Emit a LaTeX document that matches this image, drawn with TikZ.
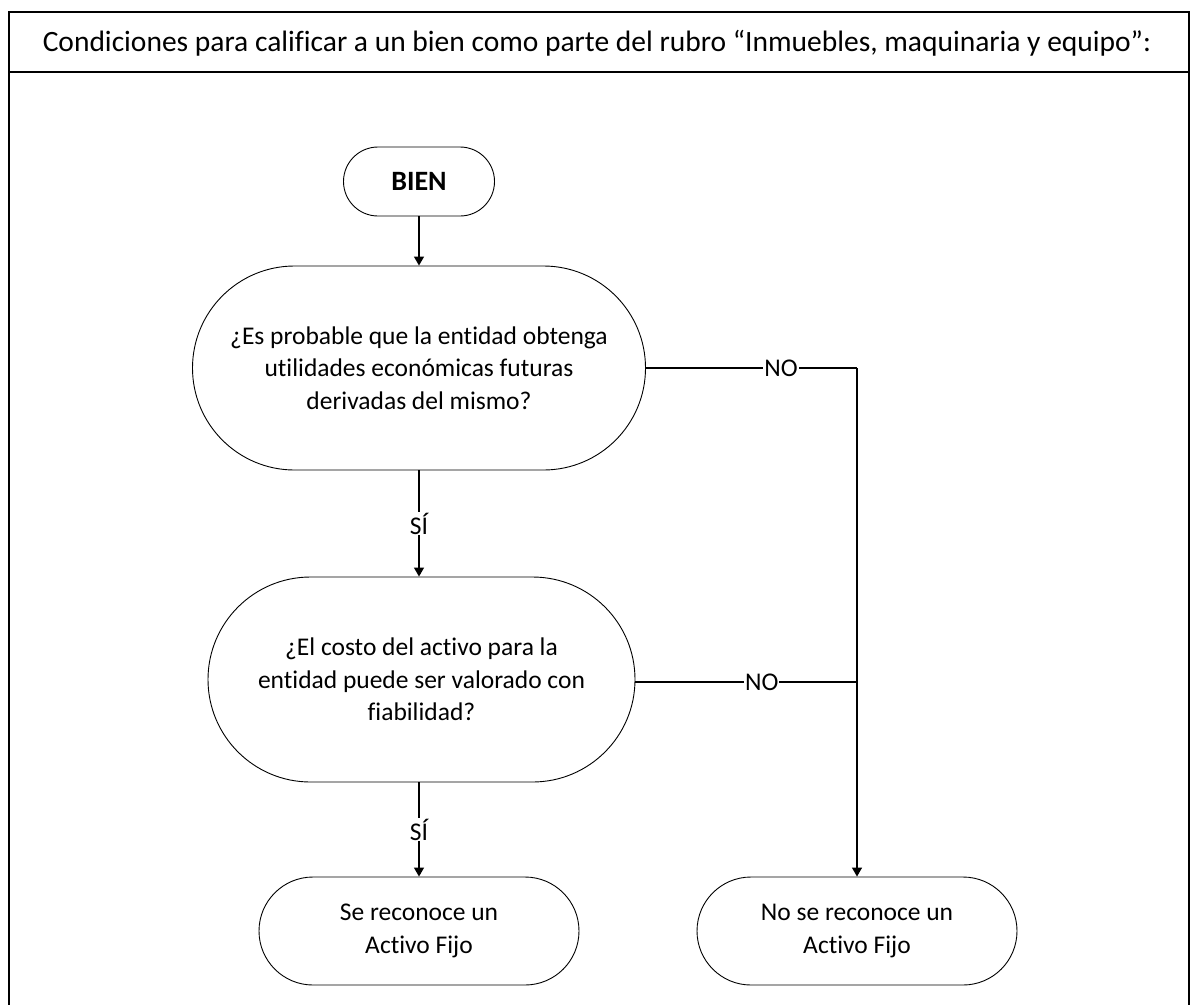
\documentclass[tikz,border=0pt]{standalone}
\usepackage{fontspec}
\setmainfont{Carlito}[Ligatures=NoCommon]
\usetikzlibrary{shapes.misc,arrows.meta}
\begin{document}
\begin{tikzpicture}[x=1pt,y=-1pt,
  stadium/.style={rounded rectangle, draw, line width=0.9pt, align=center, inner sep=0pt,
     font=\fontsize{25.5}{32.5}\selectfont},
  conn/.style={line width=1.3pt, -{Triangle[length=9pt,width=10pt]}},
  plain/.style={line width=1.3pt},
  lbl/.style={fill=white, inner sep=1pt, font=\fontsize{25.5}{30}\selectfont}]
\useasboundingbox (0,0) rectangle (1190,1004);
% frame
\draw[line width=2pt] (9,1005) -- (9,12) -- (1188.5,12) -- (1188.5,1005);
\draw[line width=1.6pt] (9,72) -- (1188.5,72);
\node (title) at (597,43) {\fontsize{29.5}{34}\selectfont Condiciones para calificar a un bien como parte del rubro “Inmuebles, maquinaria y equipo”:};
% nodes
\node[stadium, minimum width=151pt, minimum height=69pt, font=\fontsize{28}{32}\selectfont\bfseries] (bien) at (419,181.5) {BIEN};
\node[stadium, minimum width=453pt, minimum height=204pt] (d1) at (419,368) {¿Es probable que la entidad obtenga\\utilidades económicas futuras\\derivadas del mismo?};
\node[stadium, minimum width=427pt, minimum height=205pt] (d2) at (421.5,679.5) {¿El costo del activo para la\\entidad puede ser valorado con\\fiabilidad?};
\node[stadium, minimum width=320pt, minimum height=108pt] (e1) at (419,931) {Se reconoce un\\Activo Fijo};
\node[stadium, minimum width=320pt, minimum height=108pt] (e2) at (857,931) {No se reconoce un\\Activo Fijo};
\coordinate (j1) at (857,368);
\coordinate (j2) at (857,682);
% connectors
\draw[conn] (bien.south) -- (bien.south |- d1.north);
\draw[conn] (bien.south |- d1.south) -- node[lbl, pos=0.5] {SÍ} (bien.south |- d2.north);
\draw[conn] (bien.south |- d2.south) -- node[lbl, pos=0.5] {SÍ} (e1.north);
\draw[plain] (d1.east) -- node[lbl, pos=0.64] {NO} (j1);
\draw[conn] (j1) -- (e2.north);
\draw[plain] (d2.east |- j2) -- node[lbl, pos=0.57] {NO} (j2);
\end{tikzpicture}
\end{document}
